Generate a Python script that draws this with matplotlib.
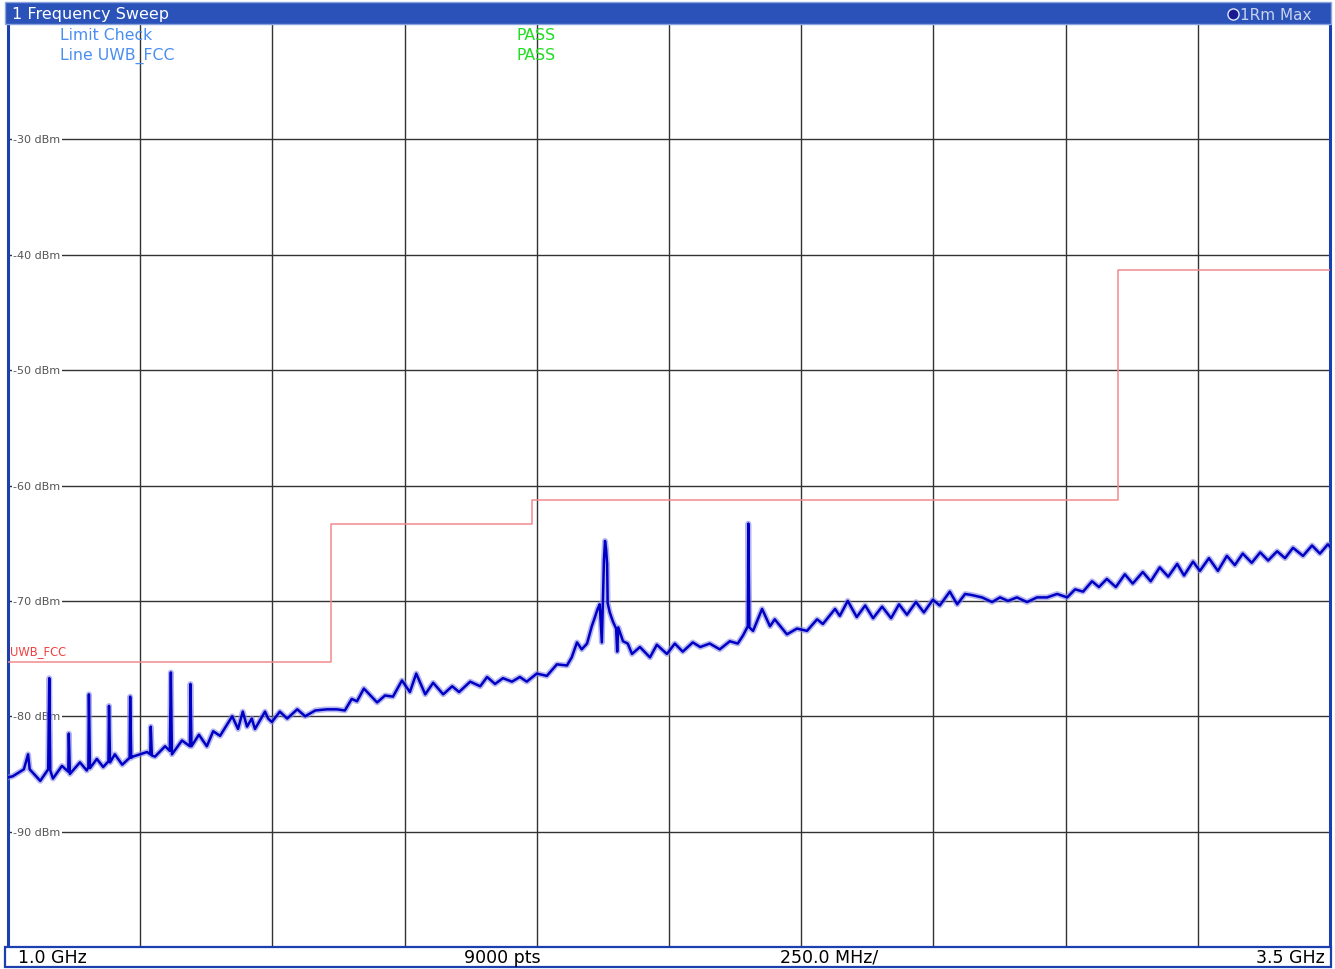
import matplotlib
matplotlib.use('Agg')
import matplotlib.pyplot as plt
from matplotlib.patches import Rectangle
from matplotlib.lines import Line2D

''' Spectrum analyzer screenshot: Frequency Sweep with UWB_FCC limit line '''

# trace (MHz, dBm)
trace_freq = [1000, 1009, 1030, 1038, 1041, 1061, 1076, 1078, 1080, 1085,
              1102, 1114, 1115, 1117, 1136, 1149, 1152, 1153, 1155, 1168,
              1180, 1190, 1191, 1193, 1202, 1216, 1230, 1231, 1233, 1236,
              1263, 1269, 1270, 1272, 1278, 1297, 1306, 1308, 1310, 1329,
              1344, 1345, 1347, 1361, 1376, 1388, 1401, 1424, 1435, 1444,
              1452, 1461, 1467, 1486, 1492, 1499, 1514, 1528, 1547, 1562,
              1581, 1603, 1622, 1637, 1650, 1660, 1673, 1698, 1713, 1728,
              1745, 1760, 1772, 1789, 1804, 1823, 1840,
              1853, 1874, 1893, 1906, 1921, 1936, 1953, 1968, 1981, 2000,
              2019, 2038, 2057, 2066, 2076, 2085, 2095, 2104, 2110, 2115,
              2119, 2123, 2125, 2127, 2129, 2131, 2133, 2134, 2138, 2144,
              2150, 2152, 2154, 2163, 2172, 2180, 2195, 2214, 2227, 2246,
              2261, 2276, 2295, 2309, 2327, 2346, 2365, 2380, 2390, 2399,
              2400, 2402, 2409, 2426, 2441, 2450, 2473, 2492, 2511, 2530,
              2541, 2564, 2573, 2588, 2605, 2621, 2636, 2653, 2670, 2685,
              2700, 2717, 2732, 2749, 2762, 2781, 2795, 2810, 2823, 2842,
              2861, 2876, 2891, 2908, 2927, 2946, 2965, 2984, 3003, 3018,
              3033, 3050, 3063, 3078, 3095, 3112, 3127, 3146, 3161, 3178,
              3194, 3211, 3224, 3241, 3254, 3271, 3288, 3305, 3320, 3335,
              3352, 3368, 3383, 3400, 3415, 3430, 3449, 3466, 3481, 3496,
              3500]
trace_dbm = [-85.3, -85.2, -84.6, -83.3, -84.6, -85.6, -84.6, -76.7, -84.7, -85.4,
             -84.3, -84.8, -81.5, -85.0, -84.0, -84.7, -84.4, -78.1, -84.5, -83.7,
             -84.4, -83.9, -79.1, -84.0, -83.3, -84.2, -83.6, -78.3, -83.6, -83.5,
             -83.1, -83.3, -80.9, -83.4, -83.5, -82.6, -83.0, -76.2, -83.3, -82.1,
             -82.6, -77.2, -82.6, -81.6, -82.6, -81.3, -81.7, -80.0, -81.1, -79.6,
             -80.9, -80.2, -81.1, -79.6, -80.2, -80.5, -79.6, -80.2, -79.4, -80.0,
             -79.5, -79.4, -79.4, -79.5, -78.5, -78.7, -77.6, -78.8, -78.2, -78.3,
             -76.9, -77.9, -76.3, -78.1, -77.1, -78.1, -77.4,
             -77.9, -77.0, -77.4, -76.6, -77.2, -76.7, -77.0, -76.6, -77.0, -76.3,
             -76.5, -75.5, -75.6, -74.9, -73.6, -74.2, -73.7, -72.2, -71.4, -70.7,
             -70.3, -73.6, -69.9, -66.4, -64.8, -65.5, -66.8, -70.2, -71.0, -71.8,
             -72.4, -74.4, -72.3, -73.5, -73.7, -74.6, -74.0, -74.9, -73.8, -74.6,
             -73.7, -74.4, -73.6, -74.0, -73.7, -74.2, -73.5, -73.7, -73.0, -72.2,
             -63.3, -72.3, -72.6, -70.7, -72.2, -71.6, -72.9, -72.4, -72.6, -71.6,
             -72.0, -70.7, -71.3, -70.0, -71.4, -70.4, -71.5, -70.5, -71.5, -70.3,
             -71.2, -70.1, -71.0, -69.9, -70.4, -69.2, -70.3, -69.4, -69.5, -69.7,
             -70.1, -69.7, -70.0, -69.7, -70.1, -69.7, -69.7, -69.4, -69.7, -69.0,
             -69.2, -68.3, -68.8, -68.1, -68.8, -67.7, -68.5, -67.5, -68.3, -67.1,
             -67.9, -66.8, -67.8, -66.6, -67.4, -66.3, -67.4, -66.1, -66.9, -65.9,
             -66.7, -65.8, -66.5, -65.7, -66.3, -65.4, -66.1, -65.2, -65.9, -65.1,
             -65.3]

# UWB_FCC limit line
limit_freq = [1000, 1610, 1610, 1990, 1990, 3100, 3100, 3500]
limit_dbm = [-75.3, -75.3, -63.3, -63.3, -61.3, -61.3, -41.3, -41.3]

grid_freq = [1250, 1500, 1750, 2000, 2250, 2500, 2750, 3000, 3250]
grid_dbm = [-30, -40, -50, -60, -70, -80, -90]

W, H = 1335, 970
fig = plt.figure(figsize=(W / 100, H / 100), dpi=100)
fig.patch.set_facecolor('white')

bar_blue = '#2a52b8'
frame_blue = '#1c3fb0'

# main plot area
ax = fig.add_axes([8 / W, 22 / H, 1322 / W, 923 / H])
ax.set_xlim(1000, 3500)
ax.set_ylim(-100, -20)
ax.set_xticks([])
ax.set_yticks([])
for s in ['top', 'bottom']:
    ax.spines[s].set_color('#303030')
    ax.spines[s].set_linewidth(1.2)
for s in ['left', 'right']:
    ax.spines[s].set_color(frame_blue)
    ax.spines[s].set_linewidth(2.2)

for f in grid_freq:
    ax.axvline(f, color='#333333', lw=1.0, zorder=1)
for lv in grid_dbm:
    ax.axhline(lv, color='#333333', lw=1.0, zorder=1)
    ax.text(1010, lv, '%d dBm' % lv, fontsize=8, color='#555555',
            va='center', ha='left', zorder=2,
            bbox=dict(fc='white', ec='none', pad=1.0))

# limit line
ax.plot(limit_freq, limit_dbm, color='#f28a8a', lw=1.1, zorder=3)
ax.text(1003, -74.9, 'UWB_FCC', fontsize=8.3, color='#f04040',
        va='bottom', ha='left', zorder=4)

# trace
ax.plot(trace_freq, trace_dbm, color='#8888e6', lw=4.2, alpha=0.6, zorder=4)
ax.plot(trace_freq, trace_dbm, color='#0000c4', lw=1.8, zorder=5)

# limit check text
ax.text(1098, -20.9, 'Limit Check', fontsize=11.3, color='#4a8ef0',
        va='center', ha='left', zorder=6)
ax.text(1098, -22.65, 'Line UWB_FCC', fontsize=11.3, color='#4a8ef0',
        va='center', ha='left', zorder=6)
ax.text(1962, -20.9, 'PASS', fontsize=11.3, color='#22dd22',
        va='center', ha='left', zorder=6)
ax.text(1962, -22.65, 'PASS', fontsize=11.3, color='#22dd22',
        va='center', ha='left', zorder=6)

# title bar
fig.patches.append(Rectangle((5 / W, 945 / H), 1326 / W, 22 / H,
                             transform=fig.transFigure, fc=bar_blue,
                             ec='#8aa4e0', lw=1.0, zorder=0))
fig.text(12 / W, 1 - 15 / H, '1 Frequency Sweep', fontsize=11.5,
         color='white', va='center', ha='left')
fig.add_artist(Line2D([1233 / W], [1 - 15 / H], transform=fig.transFigure,
                      marker='o', markersize=8, markerfacecolor='#1a1a90',
                      markeredgecolor='#e0e6ff', markeredgewidth=1.0,
                      linestyle='none'))
fig.text(1240 / W, 1 - 15 / H, '1Rm Max', fontsize=11,
         color='#c9d2ec', va='center', ha='left')

# bottom bar
fig.patches.append(Rectangle((5 / W, 2 / H), 1326 / W, 20 / H,
                             transform=fig.transFigure, fc='white',
                             ec=frame_blue, lw=1.6, zorder=0))
fig.text(18 / W, 1 - 958 / H, '1.0 GHz', fontsize=12.5,
         va='center', ha='left')
fig.text(502 / W, 1 - 958 / H, '9000 pts', fontsize=12.5,
         va='center', ha='center')
fig.text(780 / W, 1 - 958 / H, '250.0 MHz/', fontsize=12.5,
         va='center', ha='left')
fig.text(1325 / W, 1 - 958 / H, '3.5 GHz', fontsize=12.5,
         va='center', ha='right')

fig.savefig('out.png', dpi=100, facecolor='white')
